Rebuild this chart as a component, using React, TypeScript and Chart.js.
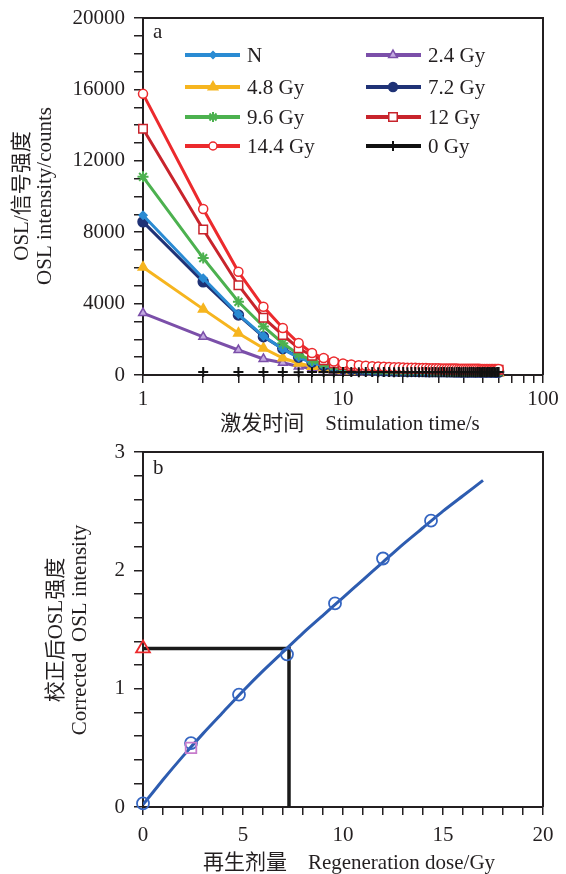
import React, { useEffect, useRef } from 'react';
import { Chart, registerables } from 'chart.js';
import { drawPoint } from 'chart.js/helpers';

Chart.register(...registerables);

const FONT = "'Liberation Serif', 'Noto Sans CJK SC', serif";
const INK = '#231f20';

// ---------- Panel a: OSL decay curves ----------
const stimTime = [
  1, 2, 3, 4, 5, 6, 7, 8, 9, 10,
  11, 12, 13, 14, 15, 16, 17, 18, 19, 20,
  21, 22, 23, 24, 25, 26, 27, 28, 29, 30,
  31, 32, 33, 34, 35, 36, 37, 38, 39, 40,
  41, 42, 43, 44, 45, 46, 47, 48, 49, 50,
  51, 52, 53, 54, 55, 56, 57, 58, 59, 60,
];

const sigN = [
  8950, 5420, 3400, 2180, 1450, 980, 700, 520, 410, 340,
  300, 275, 258, 245, 235, 227, 220, 214, 209, 205,
  201, 198, 195, 192, 190, 188, 186, 184, 183, 181,
  180, 179, 178, 177, 176, 175, 174, 174, 173, 172,
  172, 171, 170, 170, 169, 169, 168, 168, 167, 167,
  166, 166, 165, 165, 165, 164, 164, 163, 163, 163,
];
const sig24 = [
  3470, 2140, 1400, 900, 690, 480, 360, 280, 230, 200,
  180, 165, 155, 147, 141, 136, 132, 129, 126, 123,
  121, 119, 117, 116, 114, 113, 112, 111, 110, 109,
  108, 108, 107, 106, 106, 105, 105, 104, 104, 103,
  103, 102, 102, 102, 101, 101, 101, 100, 100, 100,
  100, 99, 99, 99, 99, 98, 98, 98, 98, 98,
];
const sig48 = [
  6040, 3690, 2340, 1500, 950, 660, 480, 370, 300, 250,
  220, 200, 186, 175, 167, 160, 155, 150, 146, 143,
  140, 137, 135, 133, 131, 130, 128, 127, 126, 125,
  124, 123, 122, 121, 121, 120, 119, 119, 118, 118,
  117, 117, 116, 116, 115, 115, 115, 114, 114, 114,
  113, 113, 113, 112, 112, 112, 112, 111, 111, 111,
];
const sig72 = [
  8580, 5220, 3360, 2140, 1480, 1000, 720, 530, 420, 350,
  305, 278, 260, 246, 236, 228, 221, 215, 210, 206,
  202, 199, 196, 193, 191, 189, 187, 185, 184, 182,
  181, 180, 179, 178, 177, 176, 175, 175, 174, 173,
  173, 172, 171, 171, 170, 170, 169, 169, 168, 168,
  167, 167, 166, 166, 166, 165, 165, 164, 164, 164,
];
const sig96 = [
  11100, 6550, 4100, 2720, 1780, 1150, 820, 620, 500, 420,
  370, 340, 318, 300, 288, 278, 270, 262, 256, 251,
  246, 242, 238, 235, 232, 229, 227, 225, 223, 221,
  219, 218, 216, 215, 214, 212, 211, 210, 209, 208,
  207, 206, 205, 205, 204, 203, 202, 202, 201, 200,
  200, 199, 199, 198, 198, 197, 197, 196, 196, 195,
];
const sig12 = [
  13800, 8150, 5030, 3210, 2240, 1500, 1080, 820, 660, 560,
  500, 465, 440, 420, 405, 392, 382, 373, 365, 358,
  352, 347, 343, 338, 335, 332, 329, 326, 323, 321,
  319, 317, 315, 313, 312, 310, 309, 308, 306, 305,
  304, 303, 302, 301, 300, 299, 298, 298, 297, 296,
  295, 295, 294, 293, 293, 292, 292, 291, 290, 290,
];
const sig144 = [
  15750, 9300, 5780, 3820, 2630, 1790, 1230, 950, 760, 640,
  590, 550, 520, 495, 478, 462, 450, 438, 428, 420,
  412, 406, 400, 396, 390, 387, 383, 380, 377, 374,
  371, 369, 367, 364, 362, 361, 358, 357, 355, 354,
  352, 351, 350, 348, 348, 346, 345, 345, 343, 342,
  342, 340, 340, 339, 338, 337, 337, 336, 335, 335,
];
const sig0 = [
  null, 170, 175, 165, 170, 160, 165, 170, 160, 165,
  170, 160, 165, 170, 160, 165, 175, 160, 165, 170,
  160, 165, 170, 160, 165, 170, 160, 175, 165, 160,
  170, 165, 160, 170, 165, 160, 175, 165, 160, 170,
  165, 160, 170, 165, 175, 160, 165, 170, 160, 165,
  170, 160, 165, 175, 160, 165, 170, 160, 165, 170,
];

const xTickLabelsA = [1, 10, 100];
const yTickLabelStepA = 4000;

// ---------- Panel b: growth curve ----------
const regenDose = [0, 2.4, 4.8, 7.2, 9.6, 12, 14.4];
const regenSignal = [0.03, 0.54, 0.95, 1.29, 1.72, 2.1, 2.42];
const recycleDose = [2.4];
const recycleSignal = [0.5];
const naturalSignal = 1.34;
const equivalentDose = 7.3;
const fitDose = [0, 1, 2, 3, 4, 5, 6, 7, 8, 9, 10, 11, 12, 13, 14, 15, 16, 17];
const fitSignal = [0.02, 0.23, 0.43, 0.62, 0.8, 0.98, 1.15, 1.31, 1.47, 1.62, 1.77, 1.92, 2.07, 2.22, 2.36, 2.5, 2.63, 2.76];

type SeriesStyle = {
  label: string;
  data: (number | null)[];
  color: string;
  fill: string;
  style: any;
  radius: number;
  legendRadius: number;
  order: number;
  line: boolean;
};

const seriesA: SeriesStyle[] = [
  { label: 'N', data: sigN, color: '#2a8bd3', fill: '#2a8bd3', style: 'rectRot', radius: 4, legendRadius: 3.5, order: 4, line: true },
  { label: '2.4 Gy', data: sig24, color: '#7b4fa9', fill: '#c3a9e0', style: 'triangle', radius: 5, legendRadius: 5, order: 7, line: true },
  { label: '4.8 Gy', data: sig48, color: '#f6b51f', fill: '#f6b51f', style: 'triangle', radius: 5.5, legendRadius: 5.5, order: 6, line: true },
  { label: '7.2 Gy', data: sig72, color: '#1f3276', fill: '#1f3276', style: 'circle', radius: 5, legendRadius: 4.5, order: 5, line: true },
  { label: '9.6 Gy', data: sig96, color: '#4cb14f', fill: '#4cb14f', style: 'star', radius: 5.5, legendRadius: 5, order: 3, line: true },
  { label: '12 Gy', data: sig12, color: '#c8242c', fill: '#ffffff', style: 'rect', radius: 6, legendRadius: 6, order: 2, line: true },
  { label: '14.4 Gy', data: sig144, color: '#ec2a2d', fill: '#ffffff', style: 'circle', radius: 4.5, legendRadius: 4, order: 1, line: true },
  { label: '0 Gy', data: sig0, color: '#111111', fill: '#111111', style: 'cross', radius: 5, legendRadius: 5, order: 0, line: false },
];

const legendCols = [
  ['N', '4.8 Gy', '9.6 Gy', '14.4 Gy'],
  ['2.4 Gy', '7.2 Gy', '12 Gy', '0 Gy'],
];

function drawRotatedText(ctx: CanvasRenderingContext2D, text: string, x: number, y: number) {
  ctx.save();
  ctx.translate(x, y);
  ctx.rotate(-Math.PI / 2);
  ctx.textAlign = 'center';
  ctx.textBaseline = 'middle';
  ctx.fillText(text, 0, 0);
  ctx.restore();
}

function drawFrame(chart: any) {
  const { ctx, chartArea: ca } = chart;
  ctx.save();
  ctx.strokeStyle = INK;
  ctx.lineWidth = 2;
  ctx.beginPath();
  ctx.moveTo(ca.left, ca.top);
  ctx.lineTo(ca.right, ca.top);
  ctx.lineTo(ca.right, ca.bottom);
  ctx.stroke();
  ctx.restore();
}

const decorA = {
  id: 'decorA',
  afterDraw(chart: any) {
    const ctx: CanvasRenderingContext2D = chart.ctx;
    drawFrame(chart);
    ctx.save();
    ctx.fillStyle = INK;
    ctx.font = `21px ${FONT}`;
    ctx.textBaseline = 'middle';
    ctx.textAlign = 'left';
    ctx.fillText('a', 153, 32);
    // legend
    const rows = [55, 87, 117, 146];
    const cols = [
      { x1: 185, x2: 240, mx: 213, tx: 247 },
      { x1: 366, x2: 421, mx: 393, tx: 428 },
    ];
    legendCols.forEach((col, ci) => {
      col.forEach((label, ri) => {
        const s = seriesA.find((d) => d.label === label)!;
        const y = rows[ri];
        const c = cols[ci];
        ctx.strokeStyle = s.color;
        ctx.lineWidth = 4;
        ctx.beginPath();
        ctx.moveTo(c.x1, y);
        ctx.lineTo(c.x2, y);
        ctx.stroke();
        ctx.fillStyle = s.fill;
        ctx.strokeStyle = s.color;
        ctx.lineWidth = s.style === 'cross' || s.style === 'star' ? 2 : 1.5;
        drawPoint(ctx, { pointStyle: s.style, radius: s.legendRadius, rotation: 0, borderWidth: ctx.lineWidth } as any, c.mx, y);
        ctx.fillStyle = INK;
        ctx.font = `21px ${FONT}`;
        ctx.textAlign = 'left';
        ctx.textBaseline = 'middle';
        ctx.fillText(label, c.tx, y + 1);
      });
    });
    // axis titles
    ctx.fillStyle = INK;
    ctx.font = `21px ${FONT}`;
    drawRotatedText(ctx, 'OSL/信号强度', 22, 196);
    drawRotatedText(ctx, 'OSL intensity/counts', 45, 196);
    ctx.textAlign = 'center';
    ctx.textBaseline = 'middle';
    ctx.fillText('激发时间    Stimulation time/s', 350, 424);
    ctx.restore();
  },
};

const decorB = {
  id: 'decorB',
  afterDraw(chart: any) {
    const ctx: CanvasRenderingContext2D = chart.ctx;
    drawFrame(chart);
    ctx.save();
    ctx.fillStyle = INK;
    ctx.font = `21px ${FONT}`;
    ctx.textBaseline = 'middle';
    ctx.textAlign = 'left';
    ctx.fillText('b', 153, 28);
    drawRotatedText(ctx, '校正后OSL强度', 56, 190);
    drawRotatedText(ctx, 'Corrected  OSL intensity', 80, 190);
    ctx.textAlign = 'center';
    ctx.fillText('再生剂量    Regeneration dose/Gy', 349, 423);
    ctx.restore();
  },
};

const tickFont = { family: FONT, size: 21 };

function DecayChart() {
  const ref = useRef<HTMLCanvasElement>(null);
  useEffect(() => {
    const chart = new Chart(ref.current!, {
      type: 'line',
      data: {
        datasets: seriesA.map((s) => ({
          label: s.label,
          data: stimTime.map((t, i) => ({ x: t, y: s.data[i] })),
          borderColor: s.color,
          backgroundColor: s.fill,
          borderWidth: 3,
          showLine: s.line,
          pointStyle: s.style,
          pointRadius: s.radius,
          pointBorderWidth: s.style === 'cross' || s.style === 'star' ? 2 : 1.5,
          pointBorderColor: s.color,
          pointBackgroundColor: s.fill,
          tension: 0,
          order: s.order,
          clip: false as any,
        })),
      },
      options: {
        responsive: false,
        animation: false,
        devicePixelRatio: 1,
        layout: { padding: { left: 0, top: 18, right: 23, bottom: 0 } },
        plugins: { legend: { display: false }, tooltip: { enabled: false } },
        scales: {
          x: {
            type: 'logarithmic',
            min: 1,
            max: 100,
            afterFit: (s: any) => {
              s.height = 65;
              s.paddingLeft = 0;
              s.paddingRight = 0;
            },
            ticks: {
              autoSkip: false,
              maxRotation: 0,
              minRotation: 0,
              padding: 4,
              color: INK,
              font: tickFont,
              callback: (v: any) => {
                const n = Number(v);
                return xTickLabelsA.some((t) => Math.abs(t - n) < 1e-9) ? String(n) : '';
              },
            },
            grid: { drawOnChartArea: false, drawTicks: true, tickLength: 8, color: INK, lineWidth: 1.5 },
            border: { color: INK, width: 2 },
          },
          y: {
            type: 'linear',
            min: 0,
            max: 20000,
            afterFit: (s: any) => {
              s.width = 143;
              s.paddingTop = 0;
              s.paddingBottom = 0;
            },
            ticks: {
              stepSize: 1000,
              autoSkip: false,
              padding: 9,
              color: INK,
              font: tickFont,
              callback: (v: any) => (Number(v) % yTickLabelStepA === 0 ? String(v) : ''),
            },
            grid: { drawOnChartArea: false, drawTicks: true, tickLength: 9, color: INK, lineWidth: 1.5 },
            border: { color: INK, width: 2 },
          },
        },
      } as any,
      plugins: [decorA],
    });
    return () => chart.destroy();
  }, []);
  return <canvas ref={ref} width={566} height={440} style={{ display: 'block' }} />;
}

function GrowthChart() {
  const ref = useRef<HTMLCanvasElement>(null);
  useEffect(() => {
    const chart = new Chart(ref.current!, {
      type: 'line',
      data: {
        datasets: [
          {
            label: 'fit',
            data: fitDose.map((x, i) => ({ x, y: fitSignal[i] })),
            borderColor: '#2d5cb0',
            borderWidth: 3,
            pointRadius: 0,
            tension: 0.2,
            order: 3,
          },
          {
            label: 'De',
            data: [
              { x: 0, y: naturalSignal },
              { x: equivalentDose, y: naturalSignal },
              { x: equivalentDose, y: 0 },
            ],
            borderColor: '#1a1a1a',
            borderWidth: 3.5,
            pointRadius: 0,
            tension: 0,
            order: 4,
          },
          {
            label: 'regenerative',
            data: regenDose.map((x, i) => ({ x, y: regenSignal[i] })),
            showLine: false,
            pointStyle: 'circle',
            pointRadius: 6,
            pointBorderWidth: 1.8,
            pointBorderColor: '#3566c2',
            pointBackgroundColor: 'rgba(255,255,255,0)',
            order: 1,
            clip: false as any,
          },
          {
            label: 'recycling',
            data: recycleDose.map((x, i) => ({ x, y: recycleSignal[i] })),
            showLine: false,
            pointStyle: 'rect',
            pointRadius: 7.5,
            pointBorderWidth: 1.8,
            pointBorderColor: '#c77ccc',
            pointBackgroundColor: 'rgba(255,255,255,0)',
            order: 0,
            clip: false as any,
          },
          {
            label: 'natural',
            data: [{ x: 0, y: naturalSignal }],
            showLine: false,
            pointStyle: 'triangle',
            pointRadius: 8,
            pointBorderWidth: 1.8,
            pointBorderColor: '#ec2a2d',
            pointBackgroundColor: 'rgba(255,255,255,0)',
            order: 0,
            clip: false as any,
          },
        ],
      },
      options: {
        responsive: false,
        animation: false,
        devicePixelRatio: 1,
        layout: { padding: { left: 0, top: 12, right: 23, bottom: 0 } },
        plugins: { legend: { display: false }, tooltip: { enabled: false } },
        scales: {
          x: {
            type: 'linear',
            min: 0,
            max: 20,
            afterFit: (s: any) => {
              s.height = 67;
              s.paddingLeft = 0;
              s.paddingRight = 0;
            },
            ticks: {
              stepSize: 1,
              autoSkip: false,
              maxRotation: 0,
              minRotation: 0,
              padding: 8,
              color: INK,
              font: tickFont,
              callback: (v: any) => (Math.abs(Number(v) % 5) < 1e-9 ? String(Math.round(Number(v))) : ''),
            },
            grid: { drawOnChartArea: false, drawTicks: true, tickLength: 8, color: INK, lineWidth: 1.5 },
            border: { color: INK, width: 2 },
          },
          y: {
            type: 'linear',
            min: 0,
            max: 3,
            afterFit: (s: any) => {
              s.width = 143;
              s.paddingTop = 0;
              s.paddingBottom = 0;
            },
            ticks: {
              stepSize: 0.2,
              autoSkip: false,
              padding: 9,
              color: INK,
              font: tickFont,
              callback: (v: any) => {
                const n = Number(v);
                return Math.abs(n - Math.round(n)) < 1e-6 ? String(Math.round(n)) : '';
              },
            },
            grid: { drawOnChartArea: false, drawTicks: true, tickLength: 9, color: INK, lineWidth: 1.5 },
            border: { color: INK, width: 2 },
          },
        },
      } as any,
      plugins: [decorB],
    });
    return () => chart.destroy();
  }, []);
  return <canvas ref={ref} width={566} height={434} style={{ display: 'block' }} />;
}

export default function App() {
  return (
    <div style={{ position: 'fixed', left: 0, top: 0, width: 566, height: 874, background: '#ffffff' }}>
      <DecayChart />
      <GrowthChart />
    </div>
  );
}
